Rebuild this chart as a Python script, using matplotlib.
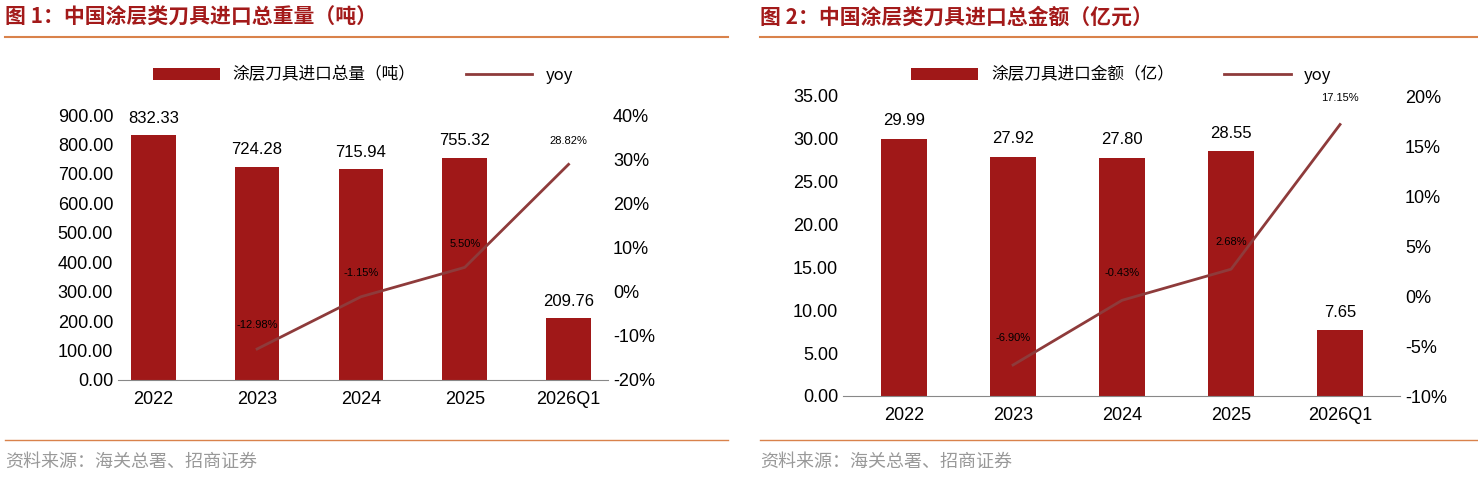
import matplotlib.pyplot as plt
from matplotlib.ticker import FuncFormatter

plt.rcParams['font.family'] = ['Liberation Sans', 'Noto Sans CJK SC', 'DejaVu Sans']

years = ['2022', '2023', '2024', '2025', '2026Q1']
weight = [832.33, 724.28, 715.94, 755.32, 209.76]
weight_yoy = [None, -12.98, -1.15, 5.50, 28.82]
amount = [29.99, 27.92, 27.80, 28.55, 7.65]
amount_yoy = [None, -6.90, -0.43, 2.68, 17.15]

bar_c = '#A01818'
line_c = '#8E3B3B'
title_c = '#A31A1A'

fig = plt.figure(figsize=(14.78, 4.79), dpi=100)


def panel(x0, x1, ax_box, xlim, title, bars, yoy, leg_bar, ylim, yticks, rlim, rticks):
    # title and rules
    fig.text(x0 / 1478, 1 - 17 / 479, title, color=title_c, fontsize=15,
             fontweight='bold', va='center', family=['Noto Sans CJK SC', 'DejaVu Sans'])
    fig.add_artist(plt.Line2D([x0 / 1478, x1 / 1478], [1 - 37 / 479] * 2,
                              color='#D9824B', lw=1.5))
    fig.add_artist(plt.Line2D([x0 / 1478, x1 / 1478], [1 - 440 / 479] * 2,
                              color='#D9824B', lw=1))
    fig.text(x0 / 1478, 1 - 462 / 479, '资料来源：海关总署、招商证券', color='#999999',
             fontsize=13, va='center', family=['Noto Sans CJK SC', 'DejaVu Sans'])

    ax = fig.add_axes(ax_box)
    idx = list(range(len(years)))
    b = ax.bar(idx, bars, width=0.43, color=bar_c, label=leg_bar)
    for i, v in enumerate(bars):
        ax.text(i, v + (ylim[1] - ylim[0]) * 0.035, f'{v:.2f}', ha='center',
                va='bottom', fontsize=12)
    ax.set_ylim(*ylim)
    ax.set_yticks(yticks)
    ax.yaxis.set_major_formatter(FuncFormatter(lambda v, p: f'{v:.2f}'))
    ax.set_xlim(*xlim)
    ax.set_xticks(idx)
    ax.set_xticklabels(years)
    ax.tick_params(labelsize=13, length=0)
    ax.tick_params(axis='x', pad=8)
    for s in ['top', 'right', 'left']:
        ax.spines[s].set_visible(False)
    ax.spines['bottom'].set_color('#888888')

    ax2 = ax.twinx()
    xs = idx[1:]
    ys = yoy[1:]
    ln, = ax2.plot(xs, ys, color=line_c, lw=2, label='yoy')
    for x, y in zip(xs, ys):
        ax2.text(x, y + (rlim[1] - rlim[0]) * 0.09, f'{y:.2f}%', ha='center',
                 va='center', fontsize=8)
    ax2.set_ylim(*rlim)
    ax2.set_yticks(rticks)
    ax2.yaxis.set_major_formatter(FuncFormatter(lambda v, p: f'{v:.0f}%'))
    ax2.tick_params(labelsize=13, length=0)
    for s in ['top', 'right', 'left', 'bottom']:
        ax2.spines[s].set_visible(False)
    cx = (ax_box[0] + ax_box[2] / 2)
    fig.legend([b, ln], [leg_bar, 'yoy'], loc='center',
               bbox_to_anchor=(cx, 1 - 75 / 479), ncol=2, frameon=False,
               fontsize=12, handlelength=4, columnspacing=3,
               prop={'family': ['Noto Sans CJK SC', 'DejaVu Sans'], 'size': 12})


panel(5, 728, [118 / 1478, 1 - 380 / 479, 490 / 1478, 265 / 479], (-0.34, 4.38),
      '图 1：中国涂层类刀具进口总重量（吨）', weight, weight_yoy, '涂层刀具进口总量（吨）',
      (0, 900), range(0, 901, 100), (-20, 40), range(-20, 41, 10))
panel(760, 1478, [843 / 1478, 1 - 396 / 479, 557 / 1478, 300 / 479], (-0.56, 4.55),
      '图 2：中国涂层类刀具进口总金额（亿元）', amount, amount_yoy, '涂层刀具进口金额（亿）',
      (0, 35), [0, 5, 10, 15, 20, 25, 30, 35], (-10, 20), range(-10, 21, 5))

fig.savefig('out.png', dpi=100)
